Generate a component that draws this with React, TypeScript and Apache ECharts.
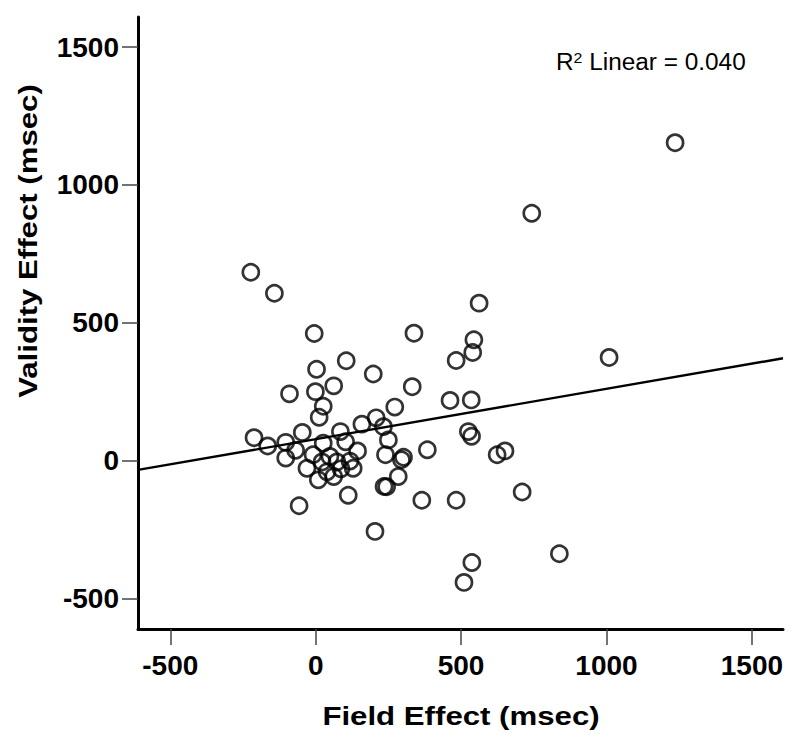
import { useEffect, useRef } from "react";
import * as echarts from "echarts";

// Field effect (x, msec) and validity effect (y, msec) for each participant
const fieldEffect = [
  1236, 743, -223, -142, 562, -5, 338, 544, 540, 483, 105, 1009, 3, 198, -90, -1, 62, 332,
  26, 12, 272, 462, 535, -212, -165, -103, -69, -103, -46, 85, 159, 208, 233, 250, 240, 26,
  103, 144, -9, -30, 9, 62, 129, 118, 22, 49, 73, 39, 87, 295, 302, 284, 235, 244, 384, 525,
  536, 624, 651, 710, 365, 483, 112, -57, 204, 838, 537, 510,
];
const validityEffect = [
  1153, 897, 683, 607, 571, 461, 462, 438, 392, 363, 362, 374, 331, 314, 242, 250, 271, 268,
  197, 157, 194, 218, 220, 83, 53, 66, 37, 9, 102, 105, 132, 155, 123, 75, 21, 63,
  68, 35, 21, -28, -70, -58, -28, -2, -5, 15, -5, -41, -30, 3, 12, -58, -94, -95, 39, 105,
  88, 21, 35, -114, -144, -144, -126, -164, -257, -338, -370, -442,
];

// Linear fit line endpoints (read at the axis extremes)
const fitX = [-611, 1607];
const fitY = [-34, 371];

const xRange = [-611, 1607];
const yRange = [-611, 1609];
const xTicks = [-500, 0, 500, 1000, 1500];
const yTicks = [-500, 0, 500, 1000, 1500];

const FONT = "'Liberation Sans', Arial, Helvetica, sans-serif";

export default function App() {
  const ref = useRef<HTMLDivElement>(null);

  useEffect(() => {
    const chart = echarts.init(ref.current!, null, { renderer: "svg" });
    const axisCommon = {
      type: "value",
      splitLine: { show: false },
      axisLine: { show: true, onZero: false, lineStyle: { color: "#000", width: 3 } },
    };
    const labelCommon = {
      color: "#000",
      fontSize: 28,
      fontWeight: "bold",
      fontFamily: FONT,
      formatter: (v: number) => String(v),
    };
    chart.setOption({
      animation: false,
      backgroundColor: "#fff",
      grid: { left: 138, right: 17, top: 17, bottom: 112, containLabel: false },
      xAxis: {
        ...axisCommon,
        min: xRange[0],
        max: xRange[1],
        axisTick: {
          show: true,
          length: 16,
          customValues: xTicks,
          lineStyle: { color: "#444", width: 1.5 },
        },
        axisLabel: { ...labelCommon, customValues: xTicks, margin: 22 },
      },
      yAxis: {
        ...axisCommon,
        min: yRange[0],
        max: yRange[1],
        axisTick: {
          show: true,
          length: 16,
          customValues: yTicks,
          lineStyle: { color: "#444", width: 1.5 },
        },
        axisLabel: { ...labelCommon, customValues: yTicks, margin: 19 },
      },
      series: [
        {
          type: "scatter",
          data: fieldEffect.map((x, i) => [x, validityEffect[i]]),
          symbol: "circle",
          symbolSize: 16,
          itemStyle: { color: "rgba(0,0,0,0)", borderColor: "#000", borderWidth: 2.7 },
          z: 3,
        },
        {
          type: "line",
          data: fitX.map((x, i) => [x, fitY[i]]),
          symbol: "none",
          lineStyle: { color: "#000", width: 2.4 },
          silent: true,
          z: 2,
        },
      ],
      graphic: [
        {
          type: "text",
          x: 461,
          y: 716,
          scaleX: 1.2,
          style: {
            text: "Field Effect (msec)",
            font: `bold 26px ${FONT}`,
            fill: "#000",
            align: "center",
            verticalAlign: "middle",
            textAlign: "center",
            textVerticalAlign: "middle",
          },
        },
        {
          type: "text",
          x: 28,
          y: 241,
          rotation: Math.PI / 2,
          scaleX: 1.2,
          style: {
            text: "Validity Effect (msec)",
            font: `bold 26px ${FONT}`,
            fill: "#000",
            align: "center",
            verticalAlign: "middle",
            textAlign: "center",
            textVerticalAlign: "middle",
          },
        },
        {
          type: "text",
          x: 556,
          y: 62,
          scaleX: 1.06,
          style: {
            text: "{r|R}{s|2}{r| Linear = 0.040}",
            fill: "#000",
            align: "left",
            verticalAlign: "middle",
            textAlign: "left",
            textVerticalAlign: "middle",
            rich: {
              r: { fontSize: 23, fontFamily: FONT, fill: "#000" },
              s: { fontSize: 15, fontFamily: FONT, fill: "#000", verticalAlign: "top" },
            },
          },
        },
      ],
    });
    return () => chart.dispose();
  }, []);

  return (
    <div
      ref={ref}
      style={{ position: "fixed", left: 0, top: 0, width: 800, height: 741, background: "#fff" }}
    />
  );
}
